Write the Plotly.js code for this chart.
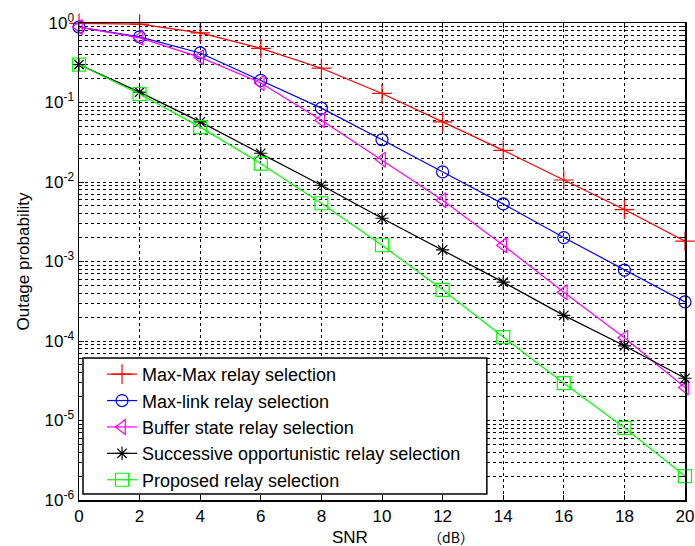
<!DOCTYPE html>
<html><head><meta charset="utf-8">
<script src="https://cdn.plot.ly/plotly-3.0.1.min.js"></script>
<style>html,body{margin:0;padding:0;background:#fff;}#chart{width:695px;height:546px;}</style>
</head><body><div id="chart"></div>
<script>
const snr = [0,2,4,6,8,10,12,14,16,18,20];
const maxMax = [0.99,0.97,0.75,0.48,0.27,0.13,0.057,0.025,0.0106,0.0045,0.0018];
const maxLink = [0.89,0.67,0.42,0.19,0.085,0.034,0.0134,0.0053,0.002,0.00078,0.00031];
const bufferState = [0.89,0.65,0.37,0.176,0.06,0.019,0.0059,0.0016,0.00041,0.00011,0.000026];
const sors = [0.30,0.135,0.057,0.023,0.0091,0.0035,0.0014,0.00055,0.00021,0.000087,0.000034];
const proposed = [0.30,0.128,0.049,0.017,0.0054,0.0016,0.00044,0.000112,0.0000295,0.0000081,0.000002];
const names = ["Max-Max relay selection","Max-link relay selection","Buffer state relay selection","Successive opportunistic relay selection","Proposed relay selection"];
const colors = ["#ff0000","#0000ff","#ff00ff","#000000","#00ff00"];
const symbols = ["cross-thin-open","circle-open","triangle-left-open","asterisk-open","square-open"];
const sizes = [14,12,13,11,13];
const yTickVals = [1,0.1,0.01,0.001,0.0001,0.00001,0.000001];
const yTickText = ["10<sup>0</sup>","10<sup>-1</sup>","10<sup>-2</sup>","10<sup>-3</sup>","10<sup>-4</sup>","10<sup>-5</sup>","10<sup>-6</sup>"];
const series = [maxMax,maxLink,bufferState,sors,proposed];

const traces = series.map((ys,i)=>({
  x: snr, y: ys, name: names[i], type:'scatter', mode:'lines+markers', legendgroup:'g'+i, cliponaxis:false,
  line:{color:colors[i], width:1.2},
  marker:{symbol:symbols[i], size:sizes[i], color:colors[i], line:{color:colors[i], width:1.2}}
}));

const fontFam = "Liberation Sans, Arial, sans-serif";
const layout = {
  width:695, height:546,
  margin:{l:79, r:10, t:23, b:46},
  paper_bgcolor:'#fff', plot_bgcolor:'#fff',
  font:{family:fontFam, size:17, color:'#000'},
  showlegend:true,
  legend:{x:0.038, y:0.302, xanchor:'left', yanchor:'top', bgcolor:'rgba(0,0,0,0)', borderwidth:0,
    font:{size:18, family:fontFam}, tracegroupgap:0},
  shapes:[
    {type:'rect', xref:'paper', yref:'paper', x0:0.0066, x1:0.673, y0:0.0126, y1:0.2977, layer:'above',
     fillcolor:'#fff', line:{color:'#000', width:1.5}}
  ],
  xaxis:{range:[0,20], tickvals:snr, showgrid:true, gridcolor:'#000', griddash:'dot', gridwidth:1,
    showline:true, linecolor:'#000', linewidth:1.5, mirror:'ticks', ticks:'inside', ticklen:5, tickcolor:'#000',
    zeroline:false, tickfont:{size:17}},
  yaxis:{type:'log', range:[-6,0], tickvals:yTickVals, ticktext:yTickText, showgrid:true, gridcolor:'#000', griddash:'dot', gridwidth:1,
    showline:true, linecolor:'#000', linewidth:1.5, mirror:'ticks', ticks:'inside', ticklen:5, tickcolor:'#000',
    zeroline:false, tickfont:{size:17},
    minor:{showgrid:true, gridcolor:'#000', griddash:'dot', gridwidth:1, ticks:'inside', ticklen:3, tickcolor:'#000', dtick:'D1'}},
  annotations:[
    {text:'Outage probability', xref:'paper', yref:'paper', x:-0.0924, y:0.5, xanchor:'center', yanchor:'middle', textangle:-90, showarrow:false, font:{size:17}},
    {text:'SNR', xref:'paper', yref:'paper', x:0.447, y:-0.0796, xanchor:'center', yanchor:'middle', showarrow:false, font:{size:17}},
    {text:'（dB）', xref:'paper', yref:'paper', x:0.614, y:-0.077, xanchor:'center', yanchor:'middle', showarrow:false, font:{size:14, family:'Noto Sans CJK SC, sans-serif'}}
  ]
};
Plotly.newPlot('chart', traces, layout, {displayModeBar:false, staticPlot:true});
</script></body></html>
